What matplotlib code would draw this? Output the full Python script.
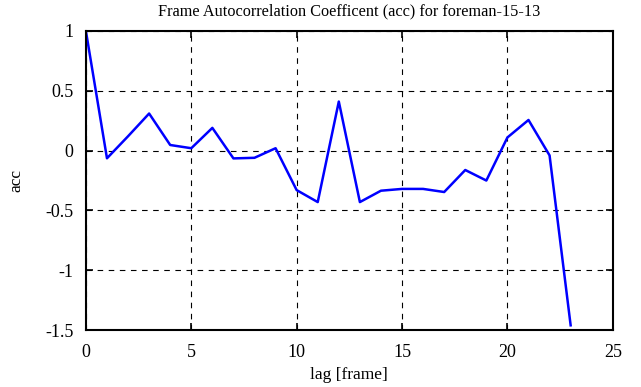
import numpy as np
import matplotlib
matplotlib.use('Agg')
import matplotlib.pyplot as plt

# values
lags = np.arange(24)
acc = [1.0, -0.064, 0.12, 0.31, 0.047, 0.02, 0.19, -0.065, -0.06, 0.02,
       -0.33, -0.43, 0.41, -0.43, -0.335, -0.32, -0.32, -0.346, -0.162,
       -0.25, 0.11, 0.256, -0.04, -1.46]

xticks = [0, 5, 10, 15, 20, 25]
yticks = [-1.5, -1, -0.5, 0, 0.5, 1]
yticklabels = ['-1.5', '-1', '-0.5', '0', '0.5', '1']

plt.rcParams['font.family'] = ['Liberation Serif', 'DejaVu Serif']
plt.rcParams['font.size'] = 12

fig = plt.figure(figsize=(6.41, 3.87), dpi=100)
ax = fig.add_axes([0.134, 0.147, 0.822, 0.773])
ax.plot(lags, acc, color='#0000ff', lw=1.8)

ax.set_xlim(0, 25)
ax.set_ylim(-1.5, 1)
ax.set_xticks(xticks)
ax.set_yticks(yticks)
ax.set_yticklabels(yticklabels)
ax.tick_params(direction='in', top=True, right=True, length=5, width=1.2,
               labelsize=13)
ax.tick_params(axis='x', pad=10)
ax.tick_params(axis='y', pad=9)
for s in ax.spines.values():
    s.set_linewidth(1.5)
ax.grid(True, color='black', linestyle=(0, (5, 5)), linewidth=0.8)

ax.set_xlabel('lag [frame]', fontsize=12.5, labelpad=4)
ax.set_ylabel('acc', fontsize=12.5)
ax.yaxis.set_label_coords(-0.117, 0.5)
ax.set_title('Frame Autocorrelation Coefficent (acc) for foreman-15-13',
             fontsize=11.7, pad=11)

plt.savefig('out.png', dpi=100)
